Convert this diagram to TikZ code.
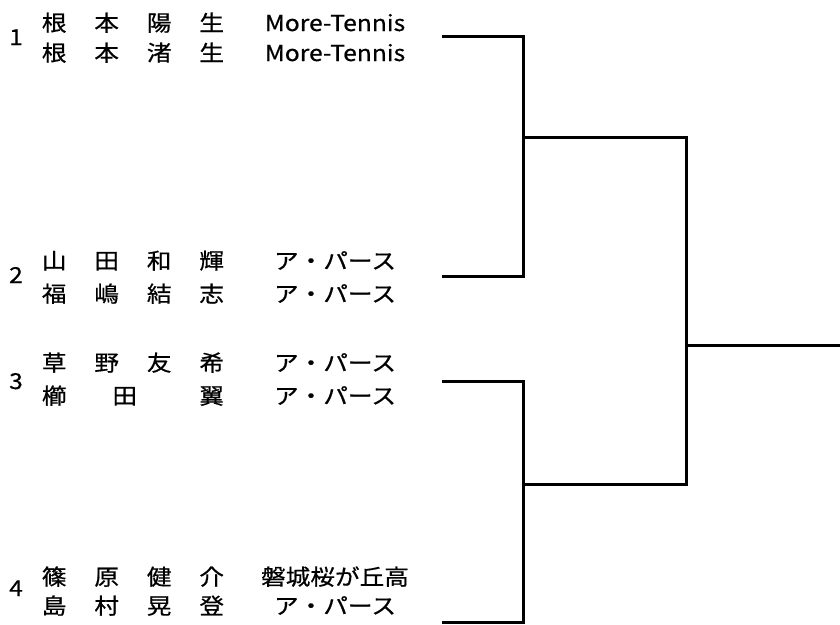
\documentclass[tikz,border=0pt]{standalone}
\usepackage{fontspec}
\setmainfont[FakeStretch=1.12, FakeBold=0.6]{Noto Sans CJK JP}
\usepackage{tikz}
\newlength{\colw}
\setlength{\colw}{52.5pt}
\newcommand{\fullname}[4]{\makebox[\colw]{#1}\makebox[\colw]{#2}\makebox[\colw]{#3}\makebox[\colw]{#4}}
\tikzset{player/.style = {anchor = base west, inner sep = 0}}
\tikzset{club/.style = {anchor = base, inner sep = 0}}
\tikzset{seed/.style = {anchor = base, inner sep = 0}}
\tikzset{bracket/.style = {line width = 3}}

\begin{document}
\begin{tikzpicture}[x = 1pt, y = -1pt, font = \fontsize{22}{26}\selectfont]
      \useasboundingbox (0, 0) rectangle (840, 624);
      \node [seed] (no1) at (16, 45) {1};
      \node [player] (p1a) at (27.75, 31) {\fullname{根}{本}{陽}{生}};
      \node [player] (p1b) at (27.75, 61) {\fullname{根}{本}{渚}{生}};
      \node [club] (c1a) at (335, 31) {More-Tennis};
      \node [club] (c1b) at (335, 61) {More-Tennis};
      \node [seed] (no2) at (16, 283) {2};
      \node [player] (p2a) at (27.75, 269) {\fullname{山}{田}{和}{輝}};
      \node [player] (p2b) at (27.75, 302) {\fullname{福}{嶋}{結}{志}};
      \node [club] (c2a) at (335, 269) {ア・パース};
      \node [club] (c2b) at (335, 302) {ア・パース};
      \node [seed] (no3) at (16, 389) {3};
      \node [player] (p3a) at (27.75, 371) {\fullname{草}{野}{友}{希}};
      \node [player] (p3b) at (27.75, 404) {\makebox[\colw]{櫛}\makebox[\colw][l]{\hspace{32pt}田}\makebox[\colw]{}\makebox[\colw]{翼}};
      \node [club] (c3a) at (335, 371) {ア・パース};
      \node [club] (c3b) at (335, 404) {ア・パース};
      \node [seed] (no4) at (16, 596) {4};
      \node [player] (p4a) at (27.75, 585) {\fullname{篠}{原}{健}{介}};
      \node [player] (p4b) at (27.75, 614) {\fullname{島}{村}{晃}{登}};
      \node [club] (c4a) at (335, 585) {磐城桜が丘高};
      \node [club] (c4b) at (335, 614) {ア・パース};
      % bracket
      \coordinate (e1) at (442, 36);
      \coordinate (e2) at (442, 276);
      \coordinate (e3) at (442, 381);
      \coordinate (e4) at (442, 622);
      \coordinate (m1) at (523, 137);
      \coordinate (m2) at (523, 484);
      \coordinate (f1) at (686, 137);
      \coordinate (f2) at (686, 484);
      \coordinate (win) at (840, 345);
      \draw [bracket] (e1) -| (m1) |- (e2);
      \draw [bracket] (e3) -| (m2) |- (e4);
      \draw [bracket] (m1) -- (f1) |- (win);
      \draw [bracket] (m2) -- (f2) |- (win);
    \end{tikzpicture}
\end{document}
